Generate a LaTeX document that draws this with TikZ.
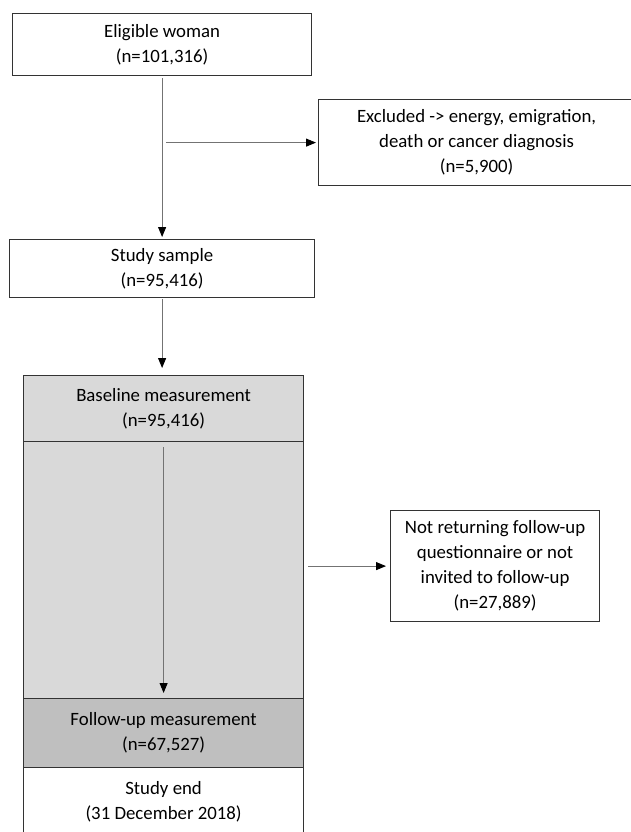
\documentclass[tikz,border=0pt]{standalone}
\usepackage{fontspec}
\setmainfont{Carlito}
\usetikzlibrary{arrows.meta,positioning}

\begin{document}
\begin{tikzpicture}[x=1pt, y=1pt, yscale=-1,
    box/.style={draw=black!80, line width=1.2pt, align=center, anchor=north west,
      inner sep=0pt, font=\fontsize{18.8}{25}\selectfont},
    link/.style={draw=black!55, line width=0.9pt,
      -{Triangle[length=10pt,width=8pt,color=black]}}]
  \useasboundingbox (0,0) rectangle (631,832);
  % left column
  \node[box, minimum width=299pt, minimum height=62pt] (elig) at (12,13) {Eligible woman\\(n=101,316)};
  \node[box, minimum width=305pt, minimum height=58pt] (sample) at (9,239) {Study sample\\(n=95,416)};
  \node[box, minimum width=280pt, minimum height=257pt, fill=black!15] (gap) at (23,441) {};
  \node[box, minimum width=280pt, minimum height=66pt, fill=black!15] (base) at (23,375) {Baseline measurement\\(n=95,416)};
  \node[box, minimum width=280pt, minimum height=69pt, fill=black!25] (follow) at (23,698) {Follow-up measurement\\(n=67,527)};
  \node[box, minimum width=280pt, minimum height=68pt] (studyend) at (23,767) {Study end\\(31 December 2018)};
  % exclusions
  \node[box, minimum width=316pt, minimum height=86pt] (excl) at (318,99) {Excluded -> energy, emigration,\\death or cancer diagnosis\\(n=5,900)};
  \node[box, minimum width=209pt, minimum height=111pt] (lost) at (390,510) {Not returning follow-up\\questionnaire or not\\invited to follow-up\\(n=27,889)};

  \draw[link, shorten <=2pt, shorten >=2pt] (elig.south) -- (elig.south |- sample.north);
  \draw[link, shorten >=2pt] ([xshift=4pt]elig.south |- excl.west) -- (excl.west);
  \draw[link, shorten <=1pt, shorten >=7pt] (sample.south) -- (sample.south |- base.north);
  \draw[link, shorten <=5pt, shorten >=5pt] (base.south) -- (follow.north);
  \draw[link, shorten <=4pt, shorten >=4pt] (gap.east |- lost.west) -- (lost.west);
\end{tikzpicture}
\end{document}
